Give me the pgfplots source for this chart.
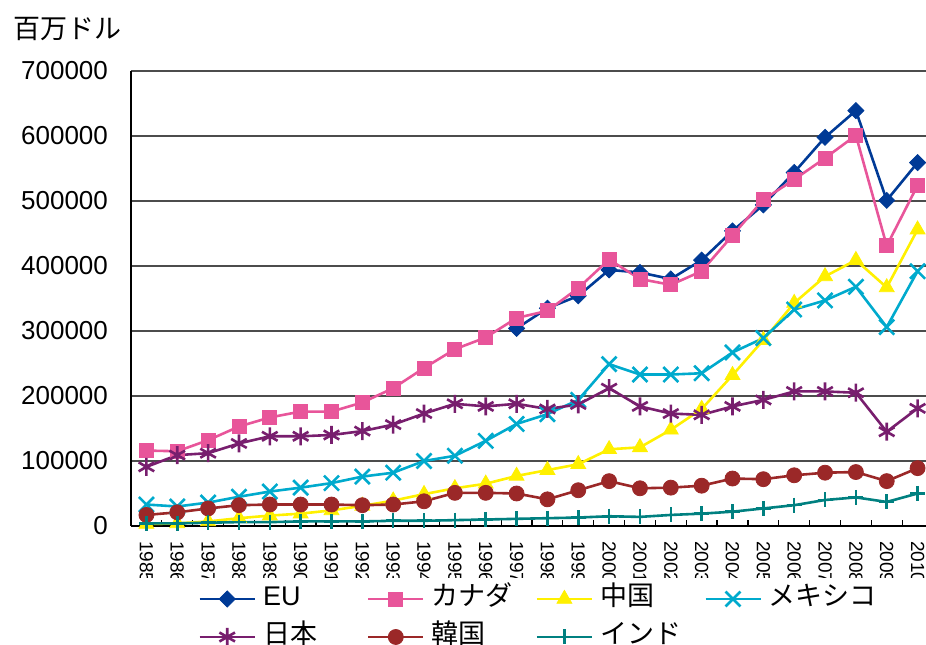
\documentclass[border=0pt]{standalone}
\usepackage{fontspec}
\setmainfont{Liberation Sans}
\newfontfamily\jp{Noto Sans CJK JP}
\usepackage{pgfplots}
\pgfplotsset{compat=1.18}
\definecolor{cEU}{RGB}{0,58,150}
\definecolor{cCA}{RGB}{232,85,154}
\definecolor{cCN}{RGB}{255,240,0}
\definecolor{cMX}{RGB}{0,170,205}
\definecolor{cJP}{RGB}{120,30,110}
\definecolor{cKR}{RGB}{155,40,40}
\definecolor{cIN}{RGB}{0,128,128}
\begin{document}
\begin{tikzpicture}
\begin{axis}[
 name=ax,
 scale only axis, width=401pt, height=227.5pt,
 xmin=-0.5, xmax=25.5, ymin=0, ymax=700000,
 axis x line*=bottom, axis y line*=left,
 axis line style={black, line width=0.7pt},
 ytick={0,100000,200000,300000,400000,500000,600000,700000},
 scaled y ticks=false,
 /pgf/number format/assume math mode=true,
 yticklabel style={font=\fontsize{13}{15}\selectfont, /pgf/number format/fixed, /pgf/number format/1000 sep={}, xshift=-8pt},
 ymajorgrids, grid style={black!70, line width=0.6pt},
 xtick={0,...,25},
 xticklabels={1985,1986,1987,1988,1989,1990,1991,1992,1993,1994,1995,1996,1997,1998,1999,2000,2001,2002,2003,2004,2005,2006,2007,2008,2009,2010},
 major tick length=0pt,
 minor xtick={-0.5,0.5,...,25.5}, minor tick length=3pt, tick align=inside,
 minor tick style={black, line width=0.6pt},
 xticklabel style={yshift=-4pt, rotate=-90, anchor=west, font=\fontsize{9.5}{10}\selectfont},
 legend columns=4,
 legend style={at={(0,0)}, anchor=north west, xshift=0.5pt, yshift=-26pt, draw=none, fill=white, inner xsep=33pt, inner ysep=3.8pt, row sep=6pt, font=\fontsize{13.5}{16}\selectfont, nodes={inner xsep=0pt, inner ysep=0pt, text height=10pt, text depth=3pt}, /tikz/every odd column/.append style={column sep=3.5pt}},
 legend image code/.code={\draw[mark repeat=2, mark phase=2, #1] plot coordinates {(0pt,0pt) (13.75pt,0pt) (27.5pt,0pt)};},
 every axis plot/.append style={line width=1.3pt},
]
\addplot[color=cEU, mark=square*, mark size=2.83pt, mark options={rotate=45, fill=cEU, line width=0.4pt}] coordinates {
(12,304000)(13,335000)(14,354000)(15,394000)(16,390000)(17,380000)(18,409000)(19,454000)(20,494000)(21,544000)(22,598000)(23,639000)(24,501000)(25,559000)};
\addlegendentry{\makebox[52pt][l]{EU}}
\addplot[color=cCA, mark=square*, mark size=3.5pt, mark options={fill=cCA, line width=0.4pt}] coordinates {
(0,116000)(1,115000)(2,132000)(3,153000)(4,167000)(5,176000)(6,176000)(7,190000)(8,212000)(9,243000)(10,272000)(11,290000)(12,320000)(13,331000)(14,366000)(15,410000)(16,380000)(17,371000)(18,392000)(19,447000)(20,502000)(21,533000)(22,566000)(23,601000)(24,431000)(25,524000)};
\addlegendentry{\makebox[52pt][l]{\jp カナダ}}
\addplot[color=cCN, mark=triangle*, mark size=4.3pt, mark options={fill=cCN, line width=0.4pt}] coordinates {
(0,3000)(1,4000)(2,7000)(3,12000)(4,16000)(5,19000)(6,24000)(7,31000)(8,39000)(9,49000)(10,58000)(11,65000)(12,77000)(13,86000)(14,95000)(15,118000)(16,121000)(17,148000)(18,180000)(19,232000)(20,286000)(21,343000)(22,384000)(23,409000)(24,367000)(25,456000)};
\addlegendentry{\makebox[52pt][l]{\jp 中国}}
\addplot[color=cMX, mark=x, mark size=5.3pt] coordinates {
(0,33000)(1,30000)(2,36000)(3,45000)(4,53000)(5,59000)(6,66000)(7,76000)(8,82000)(9,100000)(10,108000)(11,131000)(12,157000)(13,172000)(14,194000)(15,249000)(16,233000)(17,233000)(18,235000)(19,267000)(20,289000)(21,333000)(22,347000)(23,368000)(24,306000)(25,392000)};
\addlegendentry{\makebox[52pt][l]{\jp メキシコ}}
\addplot[color=cJP, mark=asterisk, mark size=4.5pt] coordinates {
(0,91000)(1,109000)(2,112000)(3,127000)(4,138000)(5,138000)(6,140000)(7,146000)(8,156000)(9,173000)(10,188000)(11,184000)(12,188000)(13,180000)(14,187000)(15,212000)(16,184000)(17,173000)(18,171000)(19,184000)(20,194000)(21,207000)(22,207000)(23,205000)(24,145000)(25,181000)};
\addlegendentry{\makebox[52pt][l]{\jp 日本}}
\addplot[color=cKR, mark=*, mark size=3.75pt, mark options={fill=cKR, line width=0.4pt}] coordinates {
(0,17000)(1,21000)(2,27000)(3,32000)(4,33000)(5,33000)(6,33000)(7,32000)(8,33000)(9,38000)(10,51000)(11,51000)(12,50000)(13,41000)(14,55000)(15,69000)(16,58000)(17,59000)(18,62000)(19,73000)(20,72000)(21,78000)(22,82000)(23,83000)(24,69000)(25,89000)};
\addlegendentry{\makebox[52pt][l]{\jp 韓国}}
\addplot[color=cIN, mark=+, mark size=3.75pt] coordinates {
(0,4000)(1,4000)(2,5000)(3,6000)(4,6000)(5,7000)(6,7000)(7,7000)(8,8000)(9,8000)(10,9000)(11,10000)(12,11000)(13,12000)(14,13000)(15,15000)(16,14000)(17,17000)(18,19000)(19,22000)(20,27000)(21,32000)(22,40000)(23,44000)(24,37000)(25,50000)};
\addlegendentry{\makebox[52pt][l]{\jp インド}}
\end{axis}
\node[anchor=west, inner sep=0pt, font={\jp\fontsize{13.5}{16}\selectfont}] at ([xshift=-59pt,yshift=20.75pt]ax.north west) {百万ドル};
\pgfresetboundingbox
\path[use as bounding box] ([xshift=-65.5pt, yshift=-59.5pt]ax.south west) rectangle ([xshift=397.5pt, yshift=35.5pt]ax.north west);
\end{tikzpicture}
\end{document}
